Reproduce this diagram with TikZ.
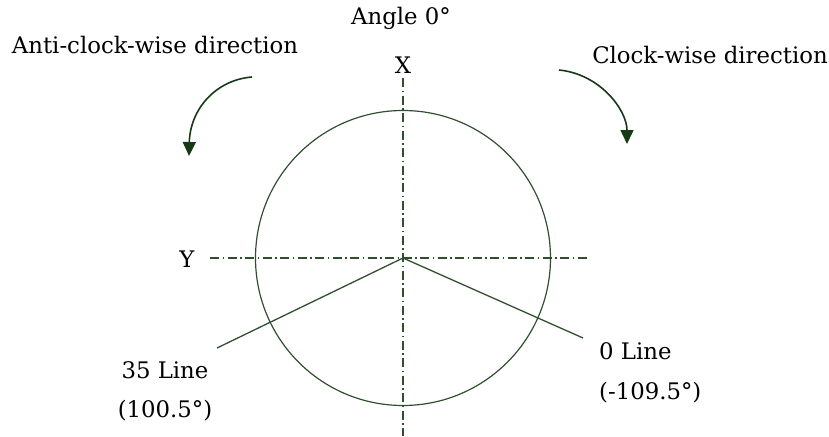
\documentclass[tikz,border=0pt]{standalone}
\usepackage{fontspec}
\setmainfont{DejaVu Serif}
\usetikzlibrary{arrows.meta}
\definecolor{lgreen}{HTML}{2F4F2F}
\definecolor{agreen}{HTML}{163A16}
\begin{document}
\begin{tikzpicture}[x=1pt,y=-1pt,
  lbl/.style={font=\fontsize{22.8}{26}\selectfont, inner sep=0pt, text=black},
  axis/.style={draw=lgreen, line width=1.4pt, dash pattern=on 9pt off 3.5pt on 1.5pt off 3.5pt},
  ray/.style={draw=lgreen, line width=1.3pt},
  turn/.style={draw=agreen, line width=1.6pt, -{Triangle[length=14pt,width=13pt]}}]
\useasboundingbox (0,0) rectangle (829,436);
\coordinate (c) at (403,258);
\node[draw=lgreen, line width=1.2pt, circle, minimum size=295pt, inner sep=0pt] (circ) at (c) {};
\coordinate (vt) at (403,78);
\coordinate (vb) at (403,436);
\coordinate (hl) at (210,258);
\coordinate (hr) at (588,258);
\draw[axis] (vt) -- (vb);
\draw[axis] (hl) -- (hr);
\coordinate (e35) at (217,348);
\coordinate (e0) at (583,338);
\draw[ray] (c) -- (e35);
\draw[ray] (c) -- (e0);
\node[lbl] (angle) at (401,18) {Angle 0°};
\node[lbl] (x) at (403,65) {X};
\node[lbl] (y) at (187,259) {Y};
\node[lbl] (acw) at (155,45) {Anti-clock-wise direction};
\node[lbl] (cw) at (710,55) {Clock-wise direction};
\node[lbl] (l35) at (165,370) {35 Line};
\node[lbl] (a35) at (165,411) {(100.5°)};
\node[lbl, anchor=west] (l0) at (599,351) {0 Line};
\node[lbl, anchor=west] (a0) at (599,393) {(-109.5°)};
\coordinate (as) at (252,77);
\coordinate (ae) at (189,156);
\coordinate (bs) at (559,70);
\coordinate (be) at (627,144);
\draw[turn] (as) .. controls (215,80) and (190,110) .. (ae);
\draw[turn] (bs) .. controls (600,74) and (627,110) .. (be);
\end{tikzpicture}
\end{document}
